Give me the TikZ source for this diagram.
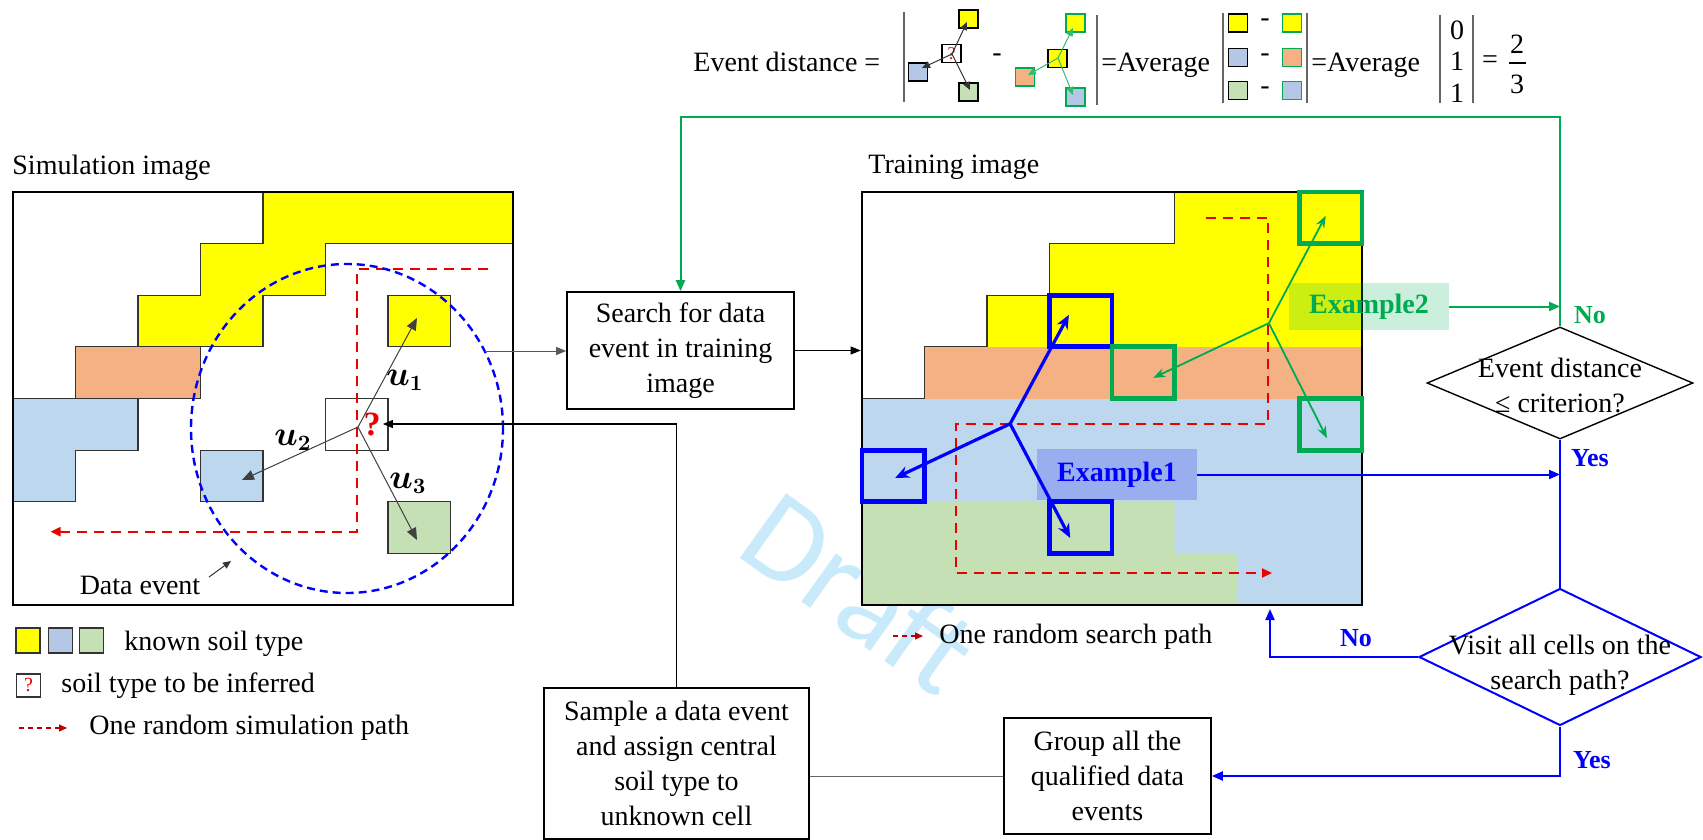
\documentclass[tikz,border=0pt]{standalone}
\usepackage{amsmath,bm}
\usepackage{fontspec}
\setmainfont{Liberation Serif}
\newfontfamily\draftfont{Carlito}
\usetikzlibrary{arrows.meta,shapes.geometric}
\newcommand{\fs}{\fontsize{14}{17.5}\selectfont}
\definecolor{cyel}{RGB}{255,255,0}
\definecolor{corg}{RGB}{244,177,131}
\definecolor{cblu}{RGB}{189,215,238}
\definecolor{cblutwo}{RGB}{180,199,231}
\definecolor{cgrn}{RGB}{197,224,180}
\definecolor{cgreen}{RGB}{0,170,80}
\definecolor{cred}{RGB}{235,0,0}
\definecolor{exone}{RGB}{152,174,238}
\definecolor{draftc}{RGB}{200,234,250}
\begin{document}
\begin{tikzpicture}[x=0.5pt,y=-0.5pt,
  txt/.style={font=\fs, inner sep=0pt},
  procbox/.style={draw, line width=0.8pt, align=center, font=\fs, inner sep=0pt},
  frame/.style={draw, line width=1.3pt, inner sep=0pt, minimum width=250pt, minimum height=206.5pt},
  cellline/.style={draw=black!80, line width=0.6pt},
  conn/.style={draw=black, line width=0.6pt, -{Triangle[length=5pt,width=4pt]}},
  thinconn/.style={draw=black!65, line width=0.5pt, -{Triangle[length=5pt,width=4pt]}},
  uarrow/.style={draw=black!75, line width=0.5pt, -{Triangle[length=6pt,width=5pt]}},
  redpath/.style={draw=cred, line width=1pt, dash pattern=on 5pt off 3.5pt, -{Triangle[length=5pt,width=4.5pt]}},
  redleg/.style={draw=cred!80!black, line width=0.6pt, dash pattern=on 2.5pt off 2pt, -{Triangle[length=4pt,width=3.5pt]}},
  bsq/.style={draw=blue, line width=2.4pt},
  gsq/.style={draw=cgreen, line width=2.4pt},
  barrow/.style={draw=blue, line width=1.6pt, -{Stealth[length=7pt,width=6pt]}},
  garrow/.style={draw=cgreen, line width=0.9pt, -{Stealth[length=6pt,width=4.5pt]}},
  bflow/.style={draw=blue, line width=1pt, -{Triangle[length=5.5pt,width=4.5pt]}},
  gflow/.style={draw=cgreen, line width=1pt, -{Triangle[length=5.5pt,width=4.5pt]}},
  minibox/.style={draw, line width=0.7pt, minimum width=9.5pt, minimum height=9pt, inner sep=0pt},
  legbox/.style={draw=black!80, line width=0.6pt, minimum width=12pt, minimum height=12.5pt, inner sep=0pt},
  lab/.style={font=\fontsize{13}{15}\selectfont\bfseries, inner sep=0pt},
  mini/.style={draw=black!80, line width=0.5pt, -{Triangle[length=4pt,width=3.5pt]}},
  minig/.style={draw=cgreen!80, line width=0.5pt, -{Triangle[length=4pt,width=3.5pt]}},
  absbar/.style={draw=black!60, line width=0.7pt},
]
\useasboundingbox (0,0) rectangle (1703,840);

% watermark
\node[font=\draftfont\fontsize{62}{62}\selectfont, text=draftc, rotate=-35.5, inner sep=0pt] (draft) at (860,592) {Draft};

% ================= top equation =================
\node[txt, anchor=base west] (evd) at (693,72) {Event distance =};
\draw[absbar] (904,12) -- (904,102);
\node[minibox] (mq) at (951.5,53.5) {};
\node[text=cred, font=\fontsize{9}{9}\selectfont, inner sep=0pt] (mqm) at (951.5,53.5) {?};
\node[minibox, fill=cyel] (my) at (968.5,19) {};
\node[minibox, fill=cblutwo] (mb) at (918,72) {};
\node[minibox, fill=cgrn] (mg) at (968.5,92) {};
\draw[mini] (952,54) -- (967,22);
\draw[mini] (952,54) -- (922,68);
\draw[mini] (952,54) -- (970,90);
\node[txt] (dash1) at (997,58) {-};
\node[minibox, fill=cyel] (nc) at (1057.5,58.5) {};
\node[minibox, fill=cyel, draw=cgreen] (nt) at (1075.5,23) {};
\node[minibox, fill=corg, draw=cgreen] (no) at (1025,77) {};
\node[minibox, fill=cblutwo, draw=cgreen] (nl) at (1075.5,97) {};
\draw[minig] (1058,58) -- (1073,28);
\draw[minig] (1058,58) -- (1028,75);
\draw[minig] (1058,58) -- (1073,95);
\draw[absbar] (1097,15) -- (1097,105);
\node[txt, anchor=base west] (avg1) at (1101,72) {=Average};
\draw[absbar] (1223,13) -- (1223,103);
\node[minibox, fill=cyel] (r1a) at (1238,23) {};
\node[txt] (r1d) at (1265,23) {-};
\node[minibox, fill=cyel, draw=cgreen] (r1b) at (1292,23) {};
\node[minibox, fill=cblutwo] (r2a) at (1238,57.5) {};
\node[txt] (r2d) at (1265,57.5) {-};
\node[minibox, fill=corg, draw=cgreen] (r2b) at (1292,57.5) {};
\node[minibox, fill=cgrn] (r3a) at (1238,90.5) {};
\node[txt] (r3d) at (1265,90.5) {-};
\node[minibox, fill=cblutwo, draw=cgreen] (r3b) at (1292,90.5) {};
\draw[absbar] (1307,13) -- (1307,103);
\node[txt, anchor=base west] (avg2) at (1311,72) {=Average};
\draw[absbar] (1440,15) -- (1440,103);
\node[txt] (v0) at (1457,30) {0};
\node[txt] (v1) at (1457,61) {1};
\node[txt] (v2) at (1457,93) {1};
\draw[absbar] (1473,15) -- (1473,103);
\node[txt] (eq) at (1490,62) {=};
\node[txt] (num) at (1517,44) {2};
\draw[line width=0.6pt] (1509,63) -- (1526,63);
\node[txt] (den) at (1517,84) {3};

% ================= simulation image =================
\node[txt, anchor=west] (simlab) at (12,168) {Simulation image};
\begin{scope}[xshift=6.5pt,yshift=-96pt,x=31.25pt,y=-25.8125pt]
  \filldraw[fill=cyel, cellline] (4,0) -- (8,0) -- (8,1) -- (5,1) -- (5,2) -- (4,2) -- (4,3) -- (2,3) -- (2,2) -- (3,2) -- (3,1) -- (4,1) -- cycle;
  \filldraw[fill=corg, cellline] (1,3) rectangle (3,4);
  \filldraw[fill=cblu, cellline] (0,4) -- (2,4) -- (2,5) -- (1,5) -- (1,6) -- (0,6) -- cycle;
  \filldraw[fill=cyel, cellline] (6,2) rectangle (7,3);
  \filldraw[fill=cblu, cellline] (3,5) rectangle (4,6);
  \filldraw[fill=cgrn, cellline] (6,6) rectangle (7,7);
  \draw[cellline] (5,4) rectangle (6,5);
  \draw[redpath] (7.6,1.5) -- (5.5,1.5) -- (5.5,6.58) -- (0.6,6.58);
\end{scope}
\node[frame] (si) at (263,398.5) {};
\draw[blue, line width=1.2pt, dash pattern=on 4pt off 2.5pt] (347,428.5) ellipse [x radius=78pt, y radius=82.25pt];
\coordinate (sc) at (358,427);
\coordinate (t1) at (417,318);
\coordinate (t2) at (242,480);
\coordinate (t3) at (417,540);
\draw[uarrow] (sc) -- (t1);
\draw[uarrow] (sc) -- (t2);
\draw[uarrow] (sc) -- (t3);
\node[font=\fontsize{16}{16}\selectfont, inner sep=0pt] (u1) at (405,380) {$\bm{u}_{\bm{1}}$};
\node[font=\fontsize{16}{16}\selectfont, inner sep=0pt] (u2) at (293,440) {$\bm{u}_{\bm{2}}$};
\node[font=\fontsize{16}{16}\selectfont, inner sep=0pt] (u3) at (408,483) {$\bm{u}_{\bm{3}}$};
\node[text=cred, font=\fontsize{17}{17}\selectfont\bfseries, inner sep=1pt] (qmark) at (372,424) {?};
\node[txt] (dev) at (140,585) {Data event};
\coordinate (devtip) at (231,561);
\draw[draw=black!80, line width=0.5pt, -{Triangle[length=4pt,width=3.5pt]}] (209,577) -- (devtip);

% legend left
\node[legbox, fill=cyel] (lg1) at (28,640.5) {};
\node[legbox, fill=cblutwo] (lg2) at (60.5,640.5) {};
\node[legbox, fill=cgrn] (lg3) at (91.5,640.5) {};
\node[txt, anchor=west] (lgt1) at (124,644) {known soil type};
\node[legbox, minimum height=11.5pt] (lgq) at (28.5,685.5) {};
\node[text=cred, font=\fontsize{10}{10}\selectfont, inner sep=0pt] (lgqm) at (28.5,685.5) {?};
\node[txt, anchor=west] (lgt2) at (61,686) {soil type to be inferred};
\coordinate (lga) at (19,728);
\coordinate (lgb) at (67,728);
\draw[redleg] (lga) -- (lgb);
\node[txt, anchor=west] (lgt3) at (89,728) {One random simulation path};

% ================= training image =================
\node[txt, anchor=west] (trlab) at (868,167) {Training image};
\begin{scope}[xshift=431pt,yshift=-96pt,x=31.25pt,y=-25.8125pt]
  \fill[cblu] (0,4) rectangle (8,8);
  \fill[cgrn] (0,6) -- (5,6) -- (5,7) -- (6,7) -- (6,8) -- (0,8) -- cycle;
  \fill[corg] (1,3) rectangle (8,4);
  \fill[cyel] (5,0) -- (8,0) -- (8,3) -- (2,3) -- (2,2) -- (3,2) -- (3,1) -- (5,1) -- cycle;
  \draw[cellline] (5,0) -- (5,1) -- (3,1) -- (3,2) -- (2,2) -- (2,3) -- (1,3) -- (1,4) -- (0,4);
  \draw[redpath] (5.5,0.5) -- (6.5,0.5) -- (6.5,4.5) -- (1.5,4.5) -- (1.5,7.38) -- (6.56,7.38);
\end{scope}
\node[frame] (ti) at (1112,398.5) {};
\node[fill=exone, minimum width=80pt, minimum height=25.5pt, inner sep=0pt, text=blue, font=\fontsize{14}{14}\selectfont\bfseries] (ex1) at (1117,474.5) {Example1};
\node[fill=cgreen, fill opacity=0.2, text opacity=1, minimum width=80pt, minimum height=23.5pt, inner sep=0pt, text=cgreen, font=\fontsize{14}{14}\selectfont\bfseries] (ex2) at (1369,306.5) {Example2};
\begin{scope}[xshift=431pt,yshift=-96pt,x=31.25pt,y=-25.8125pt]
  \draw[bsq] (3,2) rectangle (4,3);
  \draw[bsq] (0,5) rectangle (1,6);
  \draw[bsq] (3,6) rectangle (4,7);
  \draw[gsq] (7,0) rectangle (8,1);
  \draw[gsq] (4,3) rectangle (5,4);
  \draw[gsq] (7,4) rectangle (8,5);
  \coordinate (bc) at (2.37,4.49);
  \draw[barrow] (bc) -- (3.31,2.38);
  \draw[barrow] (bc) -- (0.53,5.54);
  \draw[barrow] (bc) -- (3.33,6.70);
  \coordinate (gc) at (6.51,2.54);
  \draw[garrow] (gc) -- (7.42,0.46);
  \draw[garrow] (gc) -- (4.66,3.60);
  \draw[garrow] (gc) -- (7.44,4.77);
\end{scope}
\coordinate (tla) at (893,636);
\coordinate (tlb) at (923,636);
\draw[redleg] (tla) -- (tlb);
\node[txt, anchor=west] (trleg) at (939,637) {One random search path};

% ================= process boxes =================
\node[procbox, minimum width=113.5pt, minimum height=58.5pt] (search) at (680.5,350.5) {Search for data\\event in training\\image};
\node[procbox, minimum width=132.5pt, minimum height=75.5pt] (sample) at (676.5,763.5) {Sample a data event\\and assign central\\soil type to\\unknown cell};
\node[procbox, minimum width=103.5pt, minimum height=58pt] (group) at (1107.5,776) {Group all the\\qualified data\\events};
\node[draw, diamond, line width=0.7pt, minimum width=133pt, minimum height=56pt, inner sep=0pt] (d1) at (1560,383) {};
\node[txt, align=center] (d1t) at (1560,385) {Event distance\\≤ criterion?};
\node[draw=blue, diamond, line width=1pt, minimum width=141pt, minimum height=68.5pt, inner sep=0pt] (d2) at (1560,657) {};
\node[txt, align=center] (d2t) at (1560,665) {Visit all cells on the\\search path?};

% ================= connectors =================
\coordinate (simout) at (485,351);
\draw[thinconn] (simout) -- (simout -| search.west);
\draw[conn] (search.east) -- (search.east -| ti.west);
\draw[conn] (sample.north) |- (qmark.east);
\coordinate (gtop) at (1560,117);
\draw[gflow] (d1.north) -- (gtop) -| (search.north);
\draw[gflow] (ex2.east) -- (ex2.east -| d1.north);
\draw[bflow] (ex1.east) -- (ex1.east -| d1.south);
\draw[draw=blue, line width=1pt] (d1.south) -- (d2.north);
\coordinate (notip) at (1270,609);
\draw[bflow] (d2.west) -| (notip);
\draw[bflow] (d2.south) |- (group.east);
\draw[draw=black!60, line width=0.5pt] (group.west) -- (group.west -| sample.east);

% labels
\node[lab, text=cgreen] (no1) at (1590,315) {No};
\node[lab, text=blue] (yes1) at (1590,458) {Yes};
\node[lab, text=blue] (no2) at (1356,638) {No};
\node[lab, text=blue] (yes2) at (1592,760) {Yes};
\end{tikzpicture}
\end{document}
